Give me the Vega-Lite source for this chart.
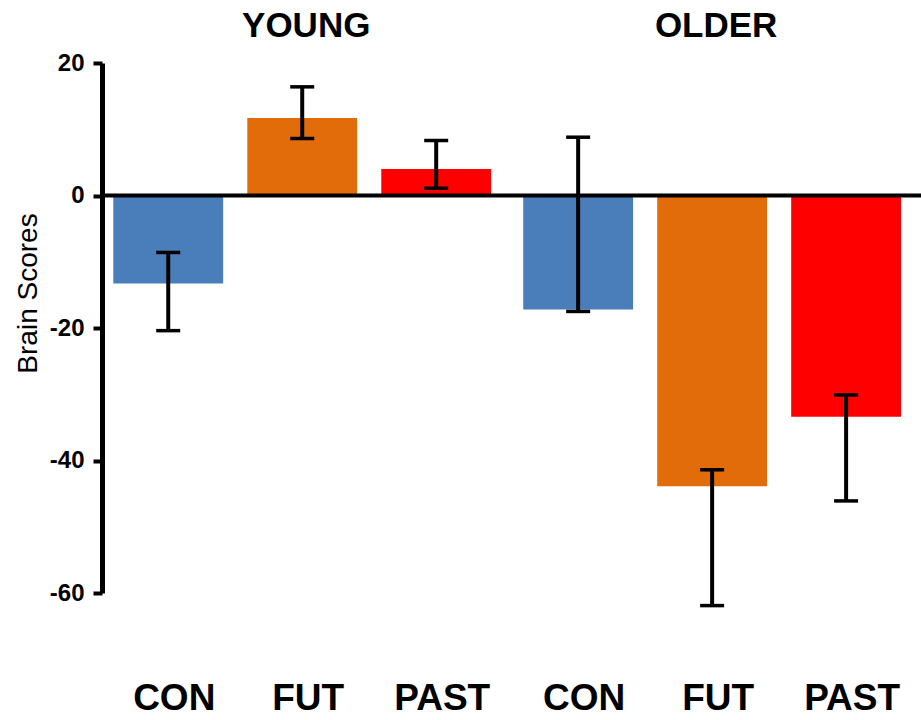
{
  "$schema": "https://vega.github.io/schema/vega-lite/v6.json",
  "width": 819,
  "height": 530,
  "autosize": {"type": "none"},
  "padding": {"left": 102, "top": 63, "right": 0, "bottom": 127},
  "background": "white",
  "config": {
    "view": {"stroke": null},
    "font": "Liberation Sans"
  },
  "data": {
    "values": [
      {"group": "YOUNG", "cond": "CON", "score": -13.3, "lo": -20.4, "hi": -8.6},
      {"group": "YOUNG", "cond": "FUT", "score": 11.7, "lo": 8.6, "hi": 16.4},
      {"group": "YOUNG", "cond": "PAST", "score": 4.0, "lo": 1.1, "hi": 8.3},
      {"group": "OLDER", "cond": "CON", "score": -17.2, "lo": -17.5, "hi": 8.8},
      {"group": "OLDER", "cond": "FUT", "score": -43.9, "lo": -61.9, "hi": -41.4},
      {"group": "OLDER", "cond": "PAST", "score": -33.4, "lo": -46.1, "hi": -30.1}
    ]
  },
  "layer": [
    {
      "mark": {"type": "bar"},
      "encoding": {
        "x": {
          "field": "group", "type": "nominal", "sort": ["YOUNG", "OLDER"],
          "scale": {"paddingInner": 0.026, "paddingOuter": 0.012, "align": 0.06},
          "axis": {
            "orient": "top", "title": null, "domain": false, "ticks": false,
            "labelAngle": 0, "labelFontSize": 35, "labelFontWeight": "bold",
            "labelColor": "black", "labelPadding": 20, "labelOffset": 4
          }
        },
        "xOffset": {
          "field": "cond", "type": "nominal", "sort": ["CON", "FUT", "PAST"],
          "scale": {"paddingInner": 0.18, "paddingOuter": 0.08}
        },
        "y": {
          "field": "score", "type": "quantitative",
          "scale": {"domain": [-60, 20], "nice": false, "zero": false},
          "axis": {
            "values": [-60, -40, -20, 0, 20],
            "labelExpr": "replace(datum.label, '\u2212', '-')",
            "title": "Brain Scores", "grid": false,
            "domainColor": "black", "domainWidth": 5,
            "tickColor": "black", "tickWidth": 4, "tickSize": 9,
            "labelFontSize": 24, "labelFontWeight": "bold", "labelColor": "black",
            "labelPadding": 9,
            "titleFontSize": 28, "titleFontWeight": "normal", "titleColor": "black",
            "titlePadding": 7, "titleY": 230
          }
        },
        "color": {
          "field": "cond", "type": "nominal",
          "scale": {"domain": ["CON", "FUT", "PAST"], "range": ["#4A7EBB", "#E36C0A", "#FF0000"]},
          "legend": null
        }
      }
    },
    {
      "data": {"values": [{"baseline": 0}]},
      "mark": {"type": "rule", "strokeWidth": 4, "color": "black"},
      "encoding": {"y": {"field": "baseline", "type": "quantitative"}}
    },
    {
      "mark": {"type": "rule", "strokeWidth": 4, "color": "black"},
      "encoding": {
        "x": {"field": "group", "type": "nominal", "sort": ["YOUNG", "OLDER"]},
        "xOffset": {"field": "cond", "type": "nominal", "sort": ["CON", "FUT", "PAST"]},
        "y": {"field": "lo", "type": "quantitative"},
        "y2": {"field": "hi"}
      }
    },
    {
      "mark": {"type": "tick", "thickness": 3.5, "size": 24, "color": "black", "opacity": 1},
      "encoding": {
        "x": {"field": "group", "type": "nominal", "sort": ["YOUNG", "OLDER"]},
        "xOffset": {"field": "cond", "type": "nominal", "sort": ["CON", "FUT", "PAST"]},
        "y": {"field": "lo", "type": "quantitative"}
      }
    },
    {
      "mark": {"type": "tick", "thickness": 3.5, "size": 24, "color": "black", "opacity": 1},
      "encoding": {
        "x": {"field": "group", "type": "nominal", "sort": ["YOUNG", "OLDER"]},
        "xOffset": {"field": "cond", "type": "nominal", "sort": ["CON", "FUT", "PAST"]},
        "y": {"field": "hi", "type": "quantitative"}
      }
    },
    {
      "mark": {"type": "text", "fontSize": 37, "fontWeight": "bold", "baseline": "middle", "color": "black", "dx": 6},
      "encoding": {
        "x": {"field": "group", "type": "nominal", "sort": ["YOUNG", "OLDER"]},
        "xOffset": {"field": "cond", "type": "nominal", "sort": ["CON", "FUT", "PAST"]},
        "y": {"datum": -76},
        "text": {"field": "cond"}
      }
    }
  ]
}
